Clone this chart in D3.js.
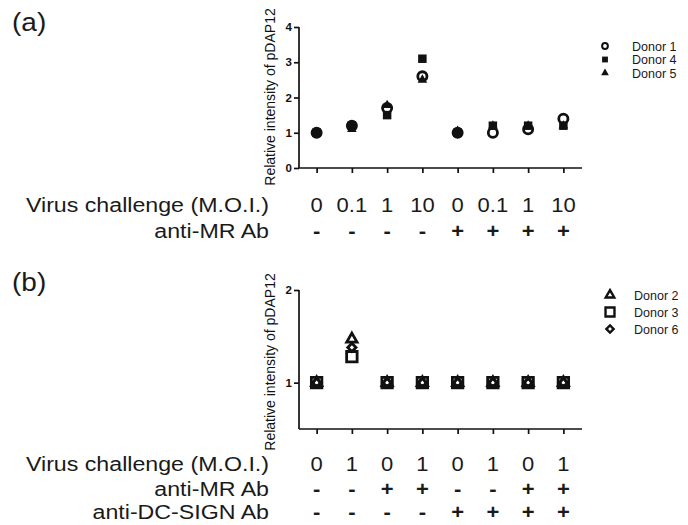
<!DOCTYPE html>
<html lang="en">
<head>
<meta charset="utf-8">
<script src="https://d3js.org/d3.v7.min.js"></script>
<style>
    body { margin: 0; background: #fff; }
    svg { display: block; font-family: "Liberation Sans", Arial, sans-serif; }
</style>
</head>
<body>
<svg id="chart" width="688" height="525"></svg>
<script>
    // panel (a) data
    const moiA = ["0", "0.1", "1", "10", "0", "0.1", "1", "10"];
    const mrA = ["-", "-", "-", "-", "+", "+", "+", "+"];
    const donor1 = [1.0, 1.2, 1.7, 2.6, 1.0, 1.0, 1.1, 1.4];
    const donor4 = [1.0, 1.2, 1.5, 3.1, 1.0, 1.2, 1.2, 1.2];
    const donor5 = [1.0, 1.1, 1.78, 2.5, 1.05, 1.2, 1.2, 1.2];
    const ticksA = [0, 1, 2, 3, 4];

    // panel (b) data
    const moiB = ["0", "1", "0", "1", "0", "1", "0", "1"];
    const mrB = ["-", "-", "+", "+", "-", "-", "+", "+"];
    const dcB = ["-", "-", "-", "-", "+", "+", "+", "+"];
    const donor2 = [1, 1.47, 1, 1, 1, 1, 1, 1];
    const donor3 = [1, 1.28, 1, 1, 1, 1, 1, 1];
    const donor6 = [1, 1.38, 1, 1, 1, 1, 1, 1];
    const ticksB = [1, 2];

    const svg = d3.select("#chart");
    const idx = d3.range(8);
    const x = d3.scalePoint().domain(idx).range([299, 581]).padding(0.5);

    const ya = d3.scaleLinear().domain([0, 4]).range([168, 27]);
    const yb = d3.scaleLinear().domain([0.5, 2]).range([429, 290]);

    const sq = d3.symbol().type(d3.symbolSquare);
    const circ = d3.symbol().type(d3.symbolCircle);
    const tri = d3.symbol().type(d3.symbolTriangle);

    function axes(y, ticks, y0) {
        const g = svg.append("g");
        g.append("g")
            .attr("transform", "translate(299,0)")
            .call(d3.axisLeft(y).tickValues(ticks).tickSize(5).tickPadding(2).tickFormat(d3.format("d")))
            .call(a => a.select(".domain").attr("d", "M0," + y.range()[1] + "V" + y0));
        g.append("g")
            .attr("transform", "translate(0," + y0 + ")")
            .call(d3.axisBottom(x).tickSize(5).tickFormat(""))
            .call(a => a.select(".domain").attr("d", "M299,0H582"));
        g.selectAll("path, line").attr("stroke", "#111").attr("stroke-width", 1.7);
        g.selectAll(".tick text").attr("font-size", 11.5).attr("font-weight", "bold").attr("fill", "#111");
    }

    function yLabel(cy) {
        svg.append("text")
            .attr("transform", "translate(275," + cy + ") rotate(-90)")
            .attr("text-anchor", "middle")
            .attr("font-size", 14)
            .attr("fill", "#111")
            .text("Relative intensity of pDAP12");
    }

    // stretched text like the original figure
    function rowText(label, vals, baseline) {
        svg.append("text")
            .attr("transform", "translate(269," + baseline + ") scale(1.16,1)")
            .attr("text-anchor", "end")
            .attr("font-size", 20)
            .attr("fill", "#1a1a1a")
            .text(label);
        svg.append("g").selectAll("text").data(vals).join("text")
            .attr("transform", (d, i) => "translate(" + x(i) + "," + baseline + ") scale(1.1,1)")
            .attr("text-anchor", "middle")
            .attr("font-size", 20)
            .attr("font-weight", d => (d == "-" || d == "+") ? "bold" : "normal")
            .attr("fill", "#1a1a1a")
            .text(d => d);
    }

    function panelLabel(t, baseline) {
        svg.append("text")
            .attr("transform", "translate(12," + baseline + ") scale(1.12,1)")
            .attr("font-size", 25).attr("fill", "#1a1a1a").text(t);
    }

    // ---------- panel (a)
    panelLabel("(a)", 31);
    axes(ya, ticksA, 168);
    yLabel(97);

    const pa = svg.append("g");
    pa.selectAll(".d5").data(donor5).join("path")
        .attr("transform", (d, i) => "translate(" + x(i) + "," + ya(d) + ")")
        .attr("d", tri.size(40)).attr("fill", "#111");
    pa.selectAll(".d4").data(donor4).join("path")
        .attr("transform", (d, i) => "translate(" + x(i) + "," + ya(d) + ")")
        .attr("d", sq.size(72)).attr("fill", "#111");
    pa.selectAll(".d1").data(donor1).join("path")
        .attr("transform", (d, i) => "translate(" + x(i) + "," + ya(d) + ")")
        .attr("d", circ.size(66)).attr("fill", "none").attr("stroke", "#111").attr("stroke-width", 2.8);

    const legA = [["Donor 1", "circle"], ["Donor 4", "square"], ["Donor 5", "triangle"]];
    const la = svg.append("g").selectAll("g").data(legA).join("g")
        .attr("transform", (d, i) => "translate(605," + (46 + i * 13.5) + ")");
    la.append("path")
        .attr("d", d => d[1] == "circle" ? circ.size(26)() : d[1] == "square" ? sq.size(34)() : tri.size(26)())
        .attr("fill", d => d[1] == "circle" ? "none" : "#111")
        .attr("stroke", d => d[1] == "circle" ? "#111" : "none")
        .attr("stroke-width", 2);
    la.append("text").attr("x", 27).attr("y", 4.5).attr("font-size", 12.5).attr("fill", "#1a1a1a").text(d => d[0]);

    rowText("Virus challenge (M.O.I.)", moiA, 212);
    rowText("anti-MR Ab", mrA, 238);

    // ---------- panel (b)
    panelLabel("(b)", 291);
    axes(yb, ticksB, 429);
    yLabel(362);

    const pb = svg.append("g");
    pb.selectAll(".d3").data(donor3).join("path")
        .attr("transform", (d, i) => "translate(" + x(i) + "," + yb(d) + ")")
        .attr("d", sq.size(110)).attr("fill", "#fff").attr("stroke", "#111").attr("stroke-width", 2.8);
    pb.selectAll(".d6").data(donor6).join("path")
        .attr("transform", (d, i) => "translate(" + x(i) + "," + yb(d) + ") rotate(45)")
        .attr("d", sq.size(34)).attr("fill", "#fff").attr("stroke", "#111").attr("stroke-width", 2.8);
    pb.selectAll(".d2").data(donor2).join("path")
        .attr("transform", (d, i) => "translate(" + x(i) + "," + yb(d) + ")")
        .attr("d", tri.size(46)).attr("fill", "none").attr("stroke", "#111").attr("stroke-width", 2.8);

    const legB = [["Donor 2", "triangle"], ["Donor 3", "square"], ["Donor 6", "diamond"]];
    const lb = svg.append("g").selectAll("g").data(legB).join("g")
        .attr("transform", (d, i) => "translate(610," + (295 + i * 17) + ")" + (d[1] == "diamond" ? " rotate(45)" : ""));
    lb.append("path")
        .attr("d", d => d[1] == "triangle" ? tri.size(32)() : d[1] == "square" ? sq.size(80)() : sq.size(26)())
        .attr("fill", "#fff").attr("stroke", "#111").attr("stroke-width", 2.4);
    svg.append("g").selectAll("text").data(legB).join("text")
        .attr("x", 634).attr("y", (d, i) => 299.5 + i * 17)
        .attr("font-size", 12.5).attr("fill", "#1a1a1a").text(d => d[0]);

    rowText("Virus challenge (M.O.I.)", moiB, 471);
    rowText("anti-MR Ab", mrB, 496);
    rowText("anti-DC-SIGN Ab", dcB, 519);
</script>
</body>
</html>
